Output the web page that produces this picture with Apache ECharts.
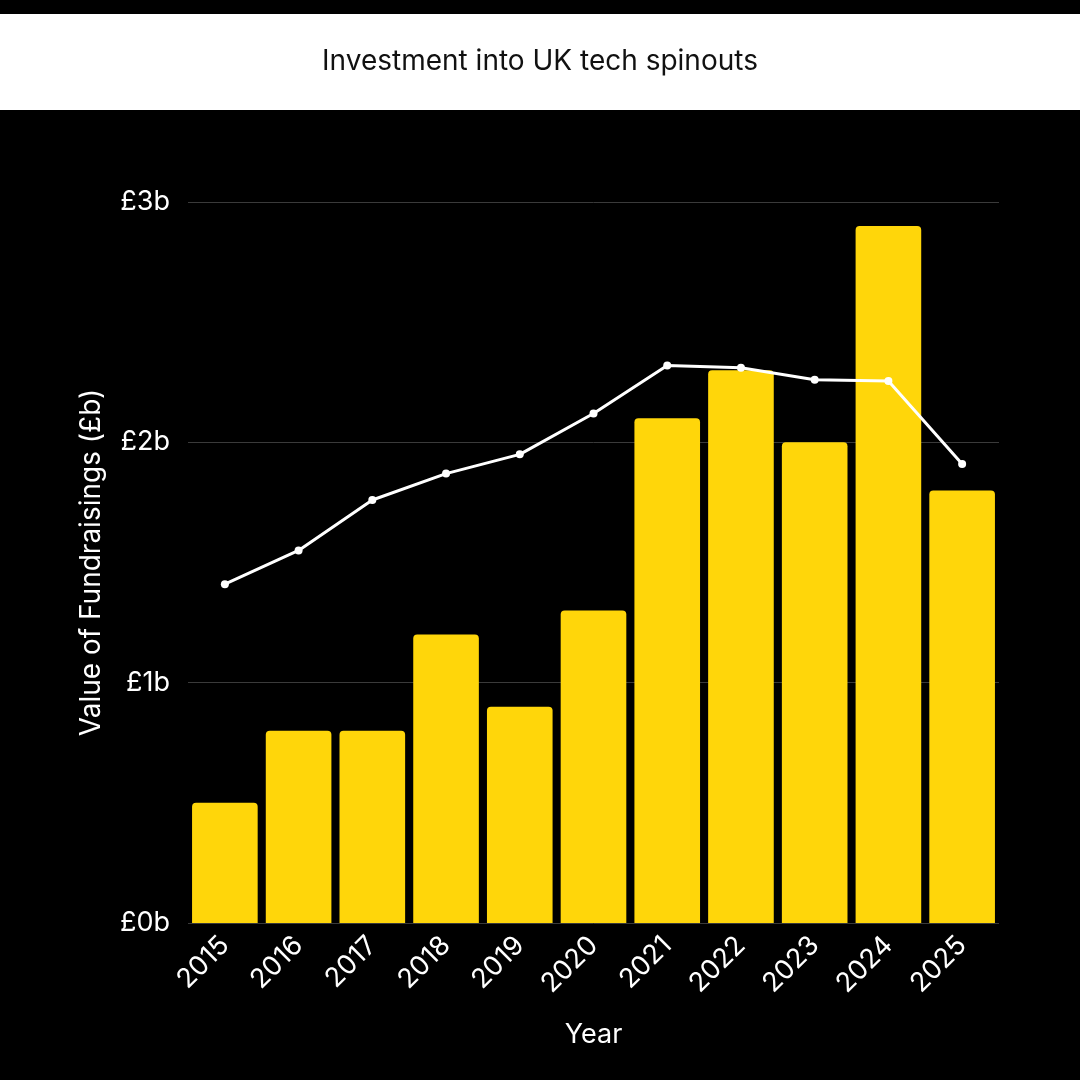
<!DOCTYPE html>
<html><head><meta charset="utf-8">
<script src="https://cdn.jsdelivr.net/npm/echarts@6/dist/echarts.min.js"></script>
<style>html,body{margin:0;padding:0;background:#000;}#c{width:1080px;height:1080px;}</style>
</head><body><div id="c"></div>
<script>
const years = ['2015','2016','2017','2018','2019','2020','2021','2022','2023','2024','2025'];
const barValues = [0.5, 0.8, 0.8, 1.2, 0.9, 1.3, 2.1, 2.3, 2.0, 2.9, 1.8];
const lineValues = [1.41, 1.55, 1.76, 1.87, 1.95, 2.12, 2.32, 2.31, 2.26, 2.255, 1.91];
const yTicks = [0, 1, 2, 3];

const chart = echarts.init(document.getElementById('c'));
const font = 'Inter, "Liberation Sans", sans-serif';
chart.setOption({
  backgroundColor: '#000',
  animation: false,
  graphic: [
    {type: 'rect', left: 0, top: 14, shape: {width: 1080, height: 96}, style: {fill: '#fff'}, z: 0},
    {type: 'text', left: 'center', top: 48, style: {text: 'Investment into UK tech spinouts', fill: '#111', font: '28px ' + font}, z: 1}
  ],
  grid: {left: 188, right: 81, top: 202, bottom: 157},
  xAxis: {
    type: 'category', data: years,
    name: 'Year', nameLocation: 'middle', nameGap: 98,
    nameTextStyle: {color: '#fff', fontSize: 27, fontFamily: font},
    axisLine: {show: false}, axisTick: {show: false},
    axisLabel: {color: '#fff', fontSize: 27, fontFamily: font, rotate: 45, margin: 18, interval: 0}
  },
  yAxis: {
    type: 'value', min: 0, max: 3, interval: 1,
    name: 'Value of Fundraisings (£b)', nameLocation: 'middle', nameGap: 82,
    nameTextStyle: {color: '#fff', fontSize: 28, fontFamily: font},
    axisLine: {show: false}, axisTick: {show: false},
    axisLabel: {color: '#fff', fontSize: 27, fontFamily: font, margin: 18,
      formatter: v => yTicks.includes(v) ? '£' + v + 'b' : ''},
    splitLine: {lineStyle: {color: '#3a3a3a', width: 1}}
  },
  series: [
    {type: 'bar', data: barValues, barCategoryGap: '11%',
     itemStyle: {color: '#FFD60A', borderRadius: [4, 4, 0, 0]}},
    {type: 'line', data: lineValues, symbol: 'circle', symbolSize: 8,
     lineStyle: {color: '#fff', width: 3}, itemStyle: {color: '#fff'}, z: 3}
  ]
});
</script></body></html>
